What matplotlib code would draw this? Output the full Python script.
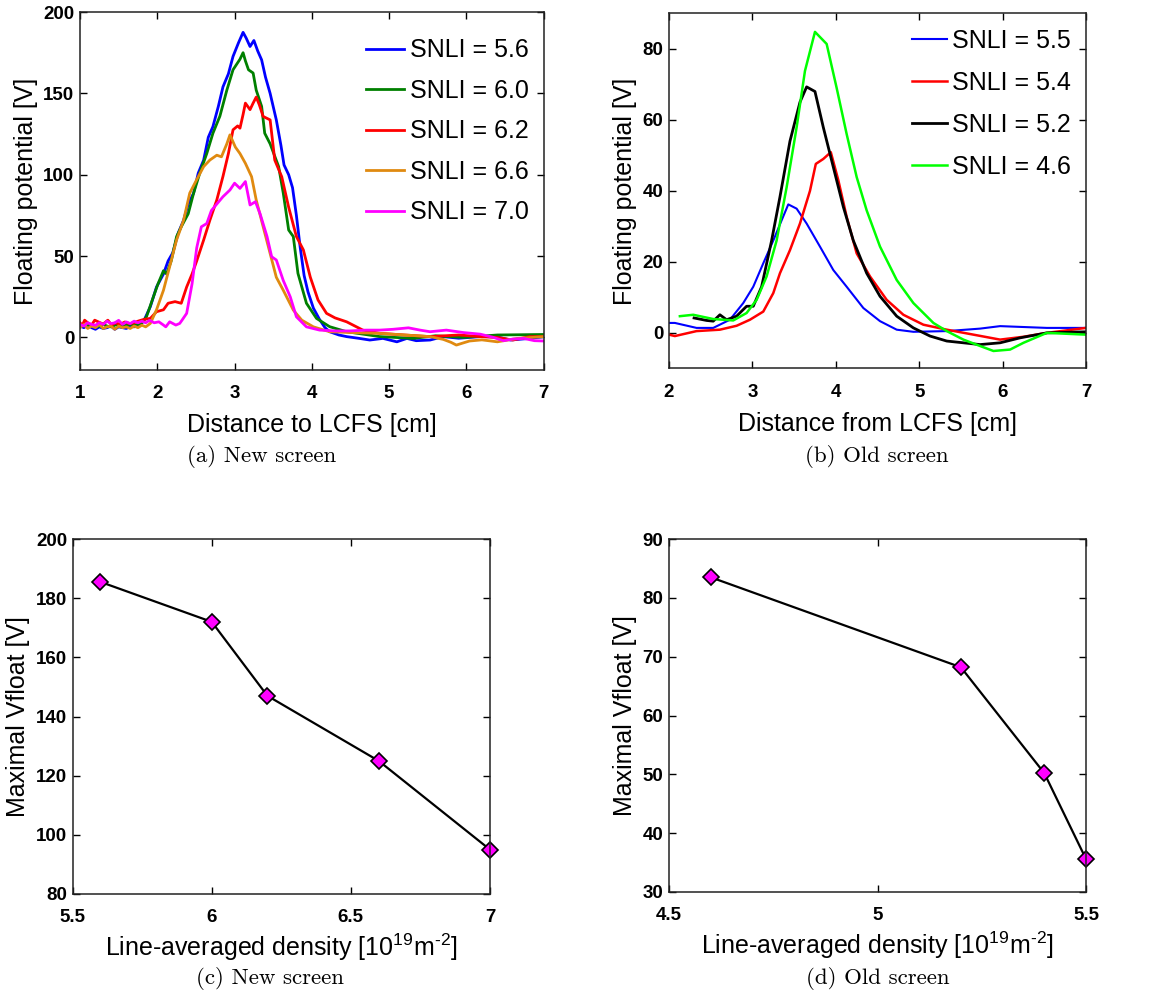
import matplotlib
matplotlib.use("Agg")
import matplotlib.pyplot as plt

plt.rcParams['font.family'] = ['Liberation Sans', 'DejaVu Sans']
plt.rcParams['mathtext.fontset'] = 'custom'
plt.rcParams['mathtext.rm'] = 'Liberation Sans'

# (a) new screen, floating potential profiles
x_56 = [1.00, 1.05, 1.10, 1.15, 1.20, 1.25, 1.30, 1.35, 1.40, 1.45, 1.50, 1.55, 1.60, 1.65, 1.70,
        1.75, 1.82, 1.91, 1.99, 2.08, 2.14, 2.20, 2.27, 2.34, 2.40, 2.47, 2.53, 2.60, 2.66, 2.72,
        2.79, 2.85, 2.92, 2.98, 3.05, 3.11, 3.15, 3.20, 3.25, 3.30, 3.35, 3.40, 3.46, 3.54, 3.60,
        3.64, 3.70, 3.75, 3.80, 3.85, 3.90, 3.95, 4.02, 4.10, 4.17, 4.23, 4.35, 4.45, 4.60, 4.75,
        4.92, 5.10, 5.23, 5.35, 5.53, 5.70, 5.90, 6.18, 6.40, 6.57, 6.82, 7.00]
y_56 = [7, 6, 7.5, 6, 5, 6.5, 5.5, 6, 7, 5, 6.5, 6, 5.5, 7, 6.5,
        7.5, 9.6, 18.9, 31, 39, 47, 52, 64, 72, 82, 88.7, 101, 109, 123, 129.6,
        142, 154, 162, 172.7, 181, 187.5, 184, 178.8, 182.5, 176, 170.6, 160, 150, 133.7, 118,
        106, 100, 92, 75, 55, 38, 28, 18, 11, 6, 3.5, 1.5, 0.5, -0.5, -1.6,
        -0.6, -2.7, -0.6, -2, -1.6, 0.5, -0.5, 0.5, 0.3, -1.6, -0.6, 0.5]

x_60 = [1.00, 1.05, 1.10, 1.15, 1.20, 1.25, 1.30, 1.35, 1.40, 1.45, 1.50, 1.55, 1.60, 1.65, 1.70,
        1.75, 1.80, 1.86, 1.95, 2.01, 2.08, 2.12, 2.18, 2.25, 2.31, 2.40, 2.47, 2.55, 2.64, 2.72,
        2.81, 2.90, 2.98, 3.07, 3.11, 3.14, 3.18, 3.24, 3.28, 3.35, 3.39, 3.46, 3.57, 3.63, 3.70,
        3.76, 3.82, 3.93, 4.06, 4.23, 4.45, 4.88, 5.31, 5.60, 5.96, 6.40, 7.00]
y_60 = [8, 7, 8, 7.5, 6.5, 7, 8, 7, 6.5, 7.5, 8, 7, 7.5, 8, 7.5,
        8, 9, 12.7, 25, 33, 41, 39, 47, 62, 68, 76, 88.7, 101, 113, 125.5,
        136, 152, 164.5, 171, 175, 170, 164.5, 162.5, 152, 142, 125.5, 119, 105, 88.7, 66,
        62, 39.4, 21, 11.7, 6.6, 3.5, 0.5, -0.6, 1, 0, 1.5, 1.8]

x_62 = [1.00, 1.03, 1.06, 1.10, 1.15, 1.19, 1.24, 1.30, 1.36, 1.41, 1.46, 1.52, 1.58, 1.64, 1.70,
        1.75, 1.82, 1.91, 1.99, 2.08, 2.14, 2.23, 2.31, 2.38, 2.45, 2.51, 2.60, 2.68, 2.77, 2.85,
        2.92, 2.98, 3.04, 3.07, 3.11, 3.14, 3.20, 3.24, 3.28, 3.32, 3.37, 3.46, 3.52, 3.61, 3.70,
        3.80, 3.89, 3.98, 4.08, 4.19, 4.30, 4.45, 4.66, 4.88, 5.20, 5.53, 5.90, 6.18, 6.40, 6.60,
        6.82, 7.00]
y_62 = [9, 7.5, 10.6, 9, 7.6, 10.6, 9.5, 8.2, 10.6, 7.6, 9, 8, 9.5, 8.5, 9,
        10, 11, 11.7, 15.8, 17, 21, 22, 21, 31, 39, 47, 59.9, 72, 84.5, 99,
        113, 127.6, 130, 128.6, 137, 144, 140, 144, 147.7, 143, 135.8, 133.7, 109, 98.8, 80,
        62, 53.8, 37, 23, 14.8, 12, 9.6, 4.5, 2.5, 1.5, 0.5, 1.5, 0.5, 0, -1.6,
        0.5, 0.5]

x_66 = [1.00, 1.05, 1.10, 1.15, 1.20, 1.25, 1.30, 1.35, 1.40, 1.45, 1.50, 1.55, 1.60, 1.65, 1.70,
        1.75, 1.80, 1.85, 1.91, 1.99, 2.08, 2.16, 2.25, 2.34, 2.42, 2.51, 2.60, 2.68, 2.77, 2.83,
        2.90, 2.94, 3.01, 3.07, 3.14, 3.22, 3.28, 3.37, 3.46, 3.54, 3.63, 3.76, 3.87, 4.02, 4.23,
        4.50, 4.88, 5.20, 5.53, 5.70, 5.80, 5.87, 5.95, 6.04, 6.20, 6.40, 6.66, 6.85, 7.00]
y_66 = [6, 8, 5.5, 7, 6, 8, 5.5, 6.5, 7, 5, 7, 6, 6.5, 5.5, 7,
        6, 7.5, 6.5, 8.6, 17, 29, 43.5, 60, 72, 88.7, 97, 105, 109, 112, 111,
        119, 124.5, 117, 113, 107, 98.8, 84.5, 68, 51.6, 37, 29, 16.8, 10.6, 6.5, 3.5,
        3, 2.5, 1.5, 0.5, -1.2, -3, -4.7, -3.5, -2.2, -1.5, -2.7, -0.6, 0, 0.5]

x_70 = [1.00, 1.05, 1.10, 1.15, 1.20, 1.25, 1.30, 1.35, 1.40, 1.45, 1.50, 1.55, 1.60, 1.65, 1.70,
        1.75, 1.80, 1.85, 1.90, 1.96, 2.02, 2.08, 2.11, 2.16, 2.24, 2.29, 2.32, 2.38, 2.45, 2.51,
        2.57, 2.64, 2.70, 2.77, 2.85, 2.94, 3.00, 3.07, 3.14, 3.20, 3.27, 3.33, 3.42, 3.48, 3.54,
        3.63, 3.72, 3.80, 3.93, 4.10, 4.30, 4.49, 4.70, 4.88, 5.05, 5.25, 5.40, 5.53, 5.74, 5.96,
        6.18, 6.35, 6.48, 6.60, 6.74, 6.88, 7.00]
y_70 = [8, 7, 9, 8, 7.5, 9, 8, 10, 8.5, 9, 10.5, 8, 9.5, 8.5, 10,
        9, 10, 9, 10.5, 9, 9.6, 7.6, 6.5, 9.6, 7.6, 8.6, 10.6, 14.8, 33, 55,
        68, 70, 78, 82, 86.5, 90.6, 94.8, 91.6, 95.8, 81.4, 83.4, 76, 62, 49.6, 47.6,
        35, 25, 12.7, 6.5, 4.5, 4, 4, 4.5, 4.5, 5, 5.9, 4.5, 3.5, 4.5, 3,
        2, 0, -2, -1, -0.6, -2, -2.2]

# (b) old screen, floating potential profiles
x_55 = [2.00, 2.07, 2.33, 2.53, 2.73, 2.89, 3.01, 3.13, 3.25, 3.35, 3.43, 3.53, 3.65, 3.81, 3.97,
        4.13, 4.33, 4.53, 4.73, 4.93, 5.33, 5.73, 5.97, 6.53, 7.00]
y_55 = [2.8, 2.8, 1.4, 1.4, 3.7, 8.4, 13, 19.6, 26, 31.7, 36.2, 35, 30.8, 24.3, 17.7,
        13, 7, 3.3, 0.9, 0.3, 0.5, 1.2, 1.9, 1.4, 1.4]

x_54 = [2.00, 2.07, 2.33, 2.61, 2.81, 2.97, 3.13, 3.25, 3.33, 3.45, 3.57, 3.69, 3.76, 3.85, 3.94,
        4.03, 4.13, 4.25, 4.41, 4.61, 4.81, 5.05, 5.33, 5.65, 5.97, 6.25, 6.53, 7.00]
y_54 = [-0.5, -0.9, 0.5, 0.9, 2, 3.7, 6, 11.2, 16.8, 23.3, 30.8, 40, 47.6, 49, 50.9,
        43, 32.7, 22.4, 15.9, 9.3, 5.1, 2.3, 0.9, -0.5, -1.9, -1.1, 0, 1.4]

x_52 = [2.30, 2.45, 2.53, 2.61, 2.69, 2.81, 2.93, 3.01, 3.11, 3.23, 3.33, 3.45, 3.57, 3.65, 3.75,
        3.85, 3.97, 4.09, 4.21, 4.37, 4.53, 4.73, 4.93, 5.13, 5.33, 5.73, 5.97, 6.21, 6.53, 7.00]
y_52 = [4.2, 3.5, 3.3, 5.1, 3.7, 4.7, 7.5, 7.5, 13, 26, 38.3, 54, 65, 69.3, 68,
        57.9, 46.7, 35.5, 26, 16.8, 10.3, 4.7, 1.4, -0.9, -2.3, -3.3, -2.8, -1.4, 0, 0.3]

x_46 = [2.13, 2.29, 2.53, 2.77, 2.93, 3.05, 3.17, 3.29, 3.41, 3.53, 3.63, 3.75, 3.89, 4.01, 4.13,
        4.25, 4.37, 4.53, 4.73, 4.93, 5.17, 5.33, 5.53, 5.73, 5.89, 6.09, 6.25, 6.53, 7.00]
y_46 = [4.7, 5.1, 3.9, 3.5, 5.6, 9.3, 15.9, 26, 41, 57.9, 73.8, 84.8, 81.4, 69, 56,
        43.9, 34.5, 24.3, 14.9, 8.4, 2.8, 0.5, -1.9, -3.7, -5.1, -4.7, -2.8, 0, -0.5]

# (c) and (d) maximal floating potential vs density
dens_new = [5.6, 6.0, 6.2, 6.6, 7.0]
vmax_new = [185.5, 172, 147, 125, 95]
dens_old = [4.6, 5.2, 5.4, 5.5]
vmax_old = [83.5, 68.2, 50.2, 35.6]

orange = '#E08A10'
dens_label = r'Line-averaged density [10$^{19}$m$^{\text{-}2}$]'

fig = plt.figure(figsize=(11.68, 10.01), dpi=100)

ax_a = fig.add_axes([0.0685, 0.6304, 0.397, 0.3576])
ax_b = fig.add_axes([0.5728, 0.632, 0.357, 0.3546])
ax_c = fig.add_axes([0.0622, 0.1069, 0.3573, 0.3546])
ax_d = fig.add_axes([0.5728, 0.1089, 0.357, 0.3526])

ax_a.plot(x_56, y_56, color='#0000FF', lw=2, label='SNLI = 5.6')
ax_a.plot(x_60, y_60, color='#008000', lw=2, label='SNLI = 6.0')
ax_a.plot(x_62, y_62, color='#FF0000', lw=2, label='SNLI = 6.2')
ax_a.plot(x_66, y_66, color=orange, lw=2, label='SNLI = 6.6')
ax_a.plot(x_70, y_70, color='#FF00FF', lw=2, label='SNLI = 7.0')
ax_a.set_xlim(1, 7)
ax_a.set_ylim(-20, 200)
ax_a.set_xticks([1, 2, 3, 4, 5, 6, 7])
ax_a.set_yticks([0, 50, 100, 150, 200])
ax_a.set_xlabel('Distance to LCFS [cm]', labelpad=8)
ax_a.set_ylabel('Floating potential [V]')
ax_a.legend(loc='upper right', bbox_to_anchor=(1.0, 0.968), frameon=False,
            fontsize=18, handlelength=1.5, handletextpad=0.25, labelspacing=0.66,
            borderaxespad=0.2)

ax_b.plot(x_55, y_55, color='#0000FF', lw=1.5, label='SNLI = 5.5')
ax_b.plot(x_54, y_54, color='#FF0000', lw=1.8, label='SNLI = 5.4')
ax_b.plot(x_52, y_52, color='black', lw=2, label='SNLI = 5.2')
ax_b.plot(x_46, y_46, color='#00FF00', lw=1.8, label='SNLI = 4.6')
ax_b.set_xlim(2, 7)
ax_b.set_ylim(-10, 90)
ax_b.set_xticks([2, 3, 4, 5, 6, 7])
ax_b.set_yticks([0, 20, 40, 60, 80])
ax_b.set_xlabel('Distance from LCFS [cm]', labelpad=8)
ax_b.set_ylabel('Floating potential [V]')
ax_b.legend(loc='upper right', bbox_to_anchor=(1.0, 0.999), frameon=False,
            fontsize=18, handlelength=1.4, handletextpad=0.2, labelspacing=0.72,
            borderaxespad=0.2)

ax_c.plot(dens_new, vmax_new, color='black', lw=1.6, marker='D', ms=8,
          markerfacecolor='#FF00FF', markeredgecolor='black', markeredgewidth=1.2, clip_on=False)
ax_c.set_xlim(5.5, 7)
ax_c.set_ylim(80, 200)
ax_c.set_xticks([5.5, 6, 6.5, 7])
ax_c.set_xticklabels(['5.5', '6', '6.5', '7'])
ax_c.set_yticks([80, 100, 120, 140, 160, 180, 200])
ax_c.set_xlabel(dens_label, labelpad=4)
ax_c.set_ylabel('Maximal Vfloat [V]')

ax_d.plot(dens_old, vmax_old, color='black', lw=1.6, marker='D', ms=8,
          markerfacecolor='#FF00FF', markeredgecolor='black', markeredgewidth=1.2, clip_on=False)
ax_d.set_xlim(4.5, 5.5)
ax_d.set_ylim(30, 90)
ax_d.set_xticks([4.5, 5, 5.5])
ax_d.set_xticklabels(['4.5', '5', '5.5'])
ax_d.set_yticks([30, 40, 50, 60, 70, 80, 90])
ax_d.set_xlabel(dens_label, labelpad=4)
ax_d.set_ylabel('Maximal Vfloat [V]')

for ax in [ax_a, ax_b, ax_c, ax_d]:
    ax.tick_params(direction='in', top=True, right=True, length=5, width=1)
    ax.tick_params(axis='x', pad=11)
    ax.tick_params(axis='y', pad=4)
    for lab in ax.get_xticklabels() + ax.get_yticklabels():
        lab.set_fontsize(13.5)
        lab.set_fontweight('bold')
    ax.xaxis.label.set_fontsize(18)
    ax.yaxis.label.set_fontsize(18)
    ax.yaxis.labelpad = 4
    for sp in ax.spines.values():
        sp.set_linewidth(1.1)
        sp.set_color('#222222')

cap = dict(fontsize=16.5, family='cmr10', ha='center', va='center')
fig.text(262 / 1168, 1 - 457 / 1001, '(a) New screen', **cap)
fig.text(877 / 1168, 1 - 457 / 1001, '(b) Old screen', **cap)
fig.text(270 / 1168, 1 - 978 / 1001, '(c) New screen', **cap)
fig.text(878 / 1168, 1 - 978 / 1001, '(d) Old screen', **cap)

fig.savefig('out.png', dpi=100)
